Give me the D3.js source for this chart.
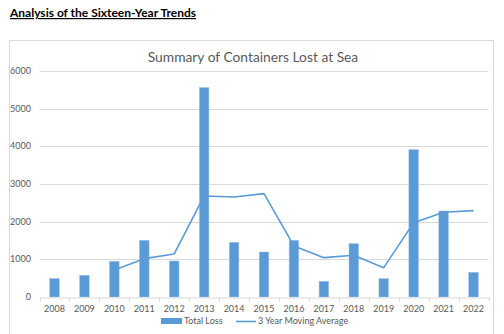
<!DOCTYPE html>
<html>
<head>
<meta charset="utf-8">
<script src="https://cdn.jsdelivr.net/npm/d3@7"></script>
<style>
  body { margin: 0; background: #fff; }
  svg { display: block; font-family: Lato, "Open Sans", sans-serif; }
</style>
</head>
<body>
<div id="chart"></div>
<script>
const years = ["2008", "2009", "2010", "2011", "2012", "2013", "2014", "2015",
  "2016", "2017", "2018", "2019", "2020", "2021", "2022"];
const totalLoss = [490, 576, 948, 1506, 956, 5560, 1453, 1195,
  1506, 417, 1416, 486, 3913, 2284, 656];
// moving average only starts once three years are available
const movingAvg = [null, null, 717, 1018, 1142, 2683, 2656, 2744,
  1355, 1045, 1107, 779, 1974, 2250, 2293];
const yTicks = [0, 1000, 2000, 3000, 4000, 5000, 6000];

const width = 504,
  height = 334;
const blue = "#5b9bd5",
  grid = "#d9d9d9",
  textGray = "#595959";

const svg = d3.select("#chart")
  .append("svg")
  .attr("width", width)
  .attr("height", height);

// heading above the chart
svg.append("text")
  .attr("x", 10)
  .attr("y", 17)
  .attr("font-size", 12)
  .attr("font-weight", "bold")
  .attr("text-decoration", "underline")
  .attr("fill", "#000")
  .text("Analysis of the Sixteen-Year Trends");

// chart frame
svg.append("rect")
  .attr("x", 9.5)
  .attr("y", 40.5)
  .attr("width", 484)
  .attr("height", 300)
  .attr("fill", "#fff")
  .attr("stroke", grid);

svg.append("text")
  .attr("x", 253)
  .attr("y", 62)
  .attr("text-anchor", "middle")
  .attr("font-size", 13.8)
  .attr("fill", textGray)
  .text("Summary of Containers Lost at Sea");

const x = d3.scaleBand()
  .domain(years)
  .range([39.5, 488.5]);

const y = d3.scaleLinear()
  .domain([0, 6000])
  .range([297, 71]);

// horizontal gridlines
svg.append("g")
  .selectAll("line")
  .data(yTicks.filter(d => d > 0))
  .join("line")
  .attr("x1", x.range()[0])
  .attr("x2", x.range()[1])
  .attr("y1", d => Math.round(y(d)) + 0.5)
  .attr("y2", d => Math.round(y(d)) + 0.5)
  .attr("stroke", grid)
  .attr("stroke-width", 1);

// y tick labels
svg.append("g")
  .selectAll("text")
  .data(yTicks)
  .join("text")
  .attr("x", 31)
  .attr("y", d => y(d))
  .attr("dy", "0.35em")
  .attr("text-anchor", "end")
  .attr("font-size", 9)
  .attr("fill", textGray)
  .text(d => d);

// bars
const barW = 9.6;
svg.append("g")
  .selectAll("rect")
  .data(totalLoss)
  .join("rect")
  .attr("x", (d, i) => x(years[i]) + x.bandwidth() / 2 - barW / 2)
  .attr("y", d => y(d))
  .attr("width", barW)
  .attr("height", d => y(0) - y(d))
  .attr("fill", blue)
  .attr("stroke", "#9dc3e6")
  .attr("stroke-width", 0.5);

// x axis with tick marks at band boundaries
const xAxis = svg.append("g")
  .attr("transform", `translate(0,${Math.round(y(0)) + 0.5})`)
  .call(d3.axisBottom(x).tickSize(0).tickPadding(8));
xAxis.select(".domain").attr("stroke", grid);
xAxis.selectAll("text")
  .attr("font-size", 9)
  .attr("font-family", "Lato, 'Open Sans', sans-serif")
  .attr("fill", textGray);
xAxis.selectAll(".bound")
  .data(d3.range(years.length + 1))
  .join("line")
  .attr("class", "bound")
  .attr("x1", i => Math.round(x.range()[0] + i * x.step()) + 0.5)
  .attr("x2", i => Math.round(x.range()[0] + i * x.step()) + 0.5)
  .attr("y1", 0)
  .attr("y2", 4)
  .attr("stroke", grid);

// moving average line
const line = d3.line()
  .defined(d => d != null)
  .x((d, i) => x(years[i]) + x.bandwidth() / 2)
  .y(d => y(d));

svg.append("path")
  .datum(movingAvg)
  .attr("fill", "none")
  .attr("stroke", blue)
  .attr("stroke-width", 1.6)
  .attr("stroke-linejoin", "round")
  .attr("d", line);

// legend
const legend = svg.append("g").attr("font-size", 9).attr("fill", textGray);
legend.append("rect")
  .attr("x", 161)
  .attr("y", 318)
  .attr("width", 21)
  .attr("height", 6)
  .attr("fill", blue);
legend.append("text")
  .attr("x", 184)
  .attr("y", 321)
  .attr("dy", "0.35em")
  .text("Total Loss");
legend.append("line")
  .attr("x1", 236)
  .attr("x2", 256)
  .attr("y1", 321.5)
  .attr("y2", 321.5)
  .attr("stroke", blue)
  .attr("stroke-width", 1.6);
legend.append("text")
  .attr("x", 258)
  .attr("y", 321)
  .attr("dy", "0.35em")
  .text("3 Year Moving Average");
</script>
</body>
</html>
